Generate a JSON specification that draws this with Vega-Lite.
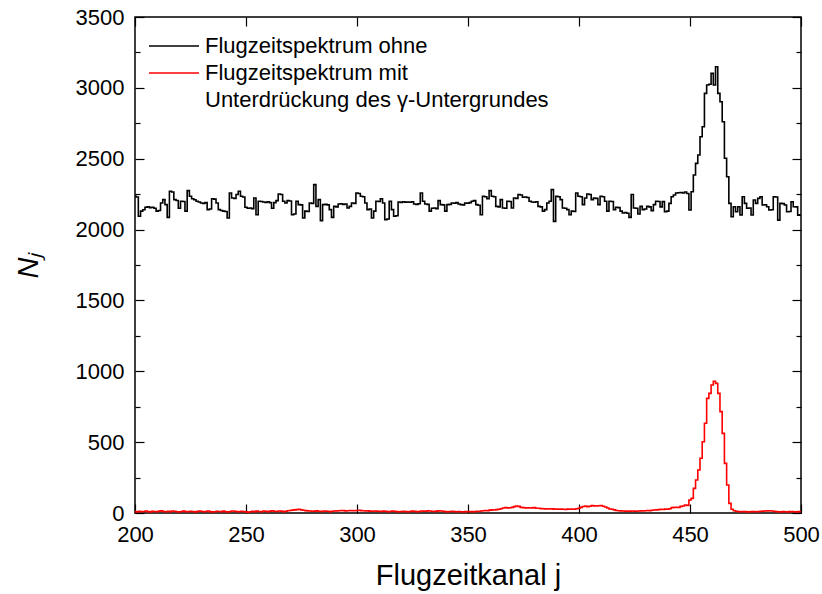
{
"$schema":"https://vega.github.io/schema/vega-lite/v6.json",
"width":666,"height":496,
"autosize":"none",
"padding":{"left":135,"top":17,"right":21,"bottom":81},
"background":"white",
"config":{"font":"Liberation Sans","view":{"stroke":"#000","strokeWidth":1.5},
"axis":{"domain":false,"grid":false,"labelColor":"#000","tickColor":"#000","titleColor":"#000","tickWidth":1.2},
"style":{"guide-label":{"fill":"#000"}}},
"data":{"values":[
{"ch":200,"ohne":2235,"mit":10},{"ch":201,"ohne":2230,"mit":8},{"ch":202,"ohne":2094,"mit":12},{"ch":203,"ohne":2130,"mit":9},{"ch":204,"ohne":2140,"mit":11},{"ch":205,"ohne":2157,"mit":14},{"ch":206,"ohne":2160,"mit":10},{"ch":207,"ohne":2155,"mit":8},{"ch":208,"ohne":2158,"mit":12},{"ch":209,"ohne":2150,"mit":11},
{"ch":210,"ohne":2130,"mit":9},{"ch":211,"ohne":2135,"mit":13},{"ch":212,"ohne":2188,"mit":15},{"ch":213,"ohne":2211,"mit":11},{"ch":214,"ohne":2176,"mit":9},{"ch":215,"ohne":2086,"mit":12},{"ch":216,"ohne":2270,"mit":10},{"ch":217,"ohne":2265,"mit":14},{"ch":218,"ohne":2211,"mit":12},{"ch":219,"ohne":2205,"mit":9},
{"ch":220,"ohne":2150,"mit":8},{"ch":221,"ohne":2200,"mit":11},{"ch":222,"ohne":2198,"mit":13},{"ch":223,"ohne":2130,"mit":10},{"ch":224,"ohne":2275,"mit":9},{"ch":225,"ohne":2235,"mit":12},{"ch":226,"ohne":2218,"mit":11},{"ch":227,"ohne":2210,"mit":8},{"ch":228,"ohne":2200,"mit":10},{"ch":229,"ohne":2195,"mit":13},
{"ch":230,"ohne":2188,"mit":12},{"ch":231,"ohne":2185,"mit":9},{"ch":232,"ohne":2190,"mit":11},{"ch":233,"ohne":2141,"mit":14},{"ch":234,"ohne":2145,"mit":10},{"ch":235,"ohne":2218,"mit":8},{"ch":236,"ohne":2215,"mit":9},{"ch":237,"ohne":2188,"mit":12},{"ch":238,"ohne":2141,"mit":11},{"ch":239,"ohne":2135,"mit":10},
{"ch":240,"ohne":2130,"mit":13},{"ch":241,"ohne":2128,"mit":9},{"ch":242,"ohne":2082,"mit":8},{"ch":243,"ohne":2258,"mit":11},{"ch":244,"ohne":2223,"mit":14},{"ch":245,"ohne":2220,"mit":12},{"ch":246,"ohne":2247,"mit":10},{"ch":247,"ohne":2270,"mit":9},{"ch":248,"ohne":2235,"mit":12},{"ch":249,"ohne":2230,"mit":11},
{"ch":250,"ohne":2157,"mit":8},{"ch":251,"ohne":2150,"mit":5},{"ch":252,"ohne":2152,"mit":9},{"ch":253,"ohne":2148,"mit":12},{"ch":254,"ohne":2223,"mit":10},{"ch":255,"ohne":2105,"mit":13},{"ch":256,"ohne":2200,"mit":11},{"ch":257,"ohne":2198,"mit":9},{"ch":258,"ohne":2195,"mit":14},{"ch":259,"ohne":2192,"mit":12},
{"ch":260,"ohne":2196,"mit":10},{"ch":261,"ohne":2190,"mit":13},{"ch":262,"ohne":2150,"mit":15},{"ch":263,"ohne":2190,"mit":12},{"ch":264,"ohne":2204,"mit":11},{"ch":265,"ohne":2251,"mit":14},{"ch":266,"ohne":2248,"mit":13},{"ch":267,"ohne":2200,"mit":10},{"ch":268,"ohne":2188,"mit":12},{"ch":269,"ohne":2204,"mit":16},
{"ch":270,"ohne":2202,"mit":18},{"ch":271,"ohne":2105,"mit":20},{"ch":272,"ohne":2110,"mit":22},{"ch":273,"ohne":2200,"mit":24},{"ch":274,"ohne":2176,"mit":26},{"ch":275,"ohne":2174,"mit":22},{"ch":276,"ohne":2082,"mit":19},{"ch":277,"ohne":2130,"mit":17},{"ch":278,"ohne":2128,"mit":15},{"ch":279,"ohne":2188,"mit":14},
{"ch":280,"ohne":2185,"mit":12},{"ch":281,"ohne":2317,"mit":13},{"ch":282,"ohne":2164,"mit":15},{"ch":283,"ohne":2211,"mit":12},{"ch":284,"ohne":2063,"mit":11},{"ch":285,"ohne":2176,"mit":14},{"ch":286,"ohne":2178,"mit":13},{"ch":287,"ohne":2174,"mit":12},{"ch":288,"ohne":2141,"mit":10},{"ch":289,"ohne":2086,"mit":12},
{"ch":290,"ohne":2164,"mit":14},{"ch":291,"ohne":2160,"mit":15},{"ch":292,"ohne":2180,"mit":16},{"ch":293,"ohne":2182,"mit":18},{"ch":294,"ohne":2178,"mit":17},{"ch":295,"ohne":2180,"mit":15},{"ch":296,"ohne":2152,"mit":16},{"ch":297,"ohne":2164,"mit":18},{"ch":298,"ohne":2188,"mit":17},{"ch":299,"ohne":2185,"mit":16},
{"ch":300,"ohne":2258,"mit":18},{"ch":301,"ohne":2255,"mit":19},{"ch":302,"ohne":2235,"mit":17},{"ch":303,"ohne":2232,"mit":16},{"ch":304,"ohne":2188,"mit":14},{"ch":305,"ohne":2141,"mit":15},{"ch":306,"ohne":2145,"mit":13},{"ch":307,"ohne":2082,"mit":12},{"ch":308,"ohne":2130,"mit":14},{"ch":309,"ohne":2200,"mit":13},
{"ch":310,"ohne":2198,"mit":12},{"ch":311,"ohne":2218,"mit":11},{"ch":312,"ohne":2188,"mit":13},{"ch":313,"ohne":2070,"mit":12},{"ch":314,"ohne":2075,"mit":10},{"ch":315,"ohne":2200,"mit":11},{"ch":316,"ohne":2141,"mit":13},{"ch":317,"ohne":2094,"mit":12},{"ch":318,"ohne":2098,"mit":10},{"ch":319,"ohne":2195,"mit":9},
{"ch":320,"ohne":2192,"mit":11},{"ch":321,"ohne":2196,"mit":12},{"ch":322,"ohne":2194,"mit":10},{"ch":323,"ohne":2195,"mit":9},{"ch":324,"ohne":2193,"mit":11},{"ch":325,"ohne":2196,"mit":13},{"ch":326,"ohne":2180,"mit":12},{"ch":327,"ohne":2178,"mit":10},{"ch":328,"ohne":2182,"mit":11},{"ch":329,"ohne":2258,"mit":14},
{"ch":330,"ohne":2200,"mit":13},{"ch":331,"ohne":2180,"mit":12},{"ch":332,"ohne":2178,"mit":15},{"ch":333,"ohne":2130,"mit":14},{"ch":334,"ohne":2150,"mit":12},{"ch":335,"ohne":2152,"mit":11},{"ch":336,"ohne":2148,"mit":13},{"ch":337,"ohne":2204,"mit":15},{"ch":338,"ohne":2176,"mit":14},{"ch":339,"ohne":2174,"mit":12},
{"ch":340,"ohne":2130,"mit":10},{"ch":341,"ohne":2176,"mit":9},{"ch":342,"ohne":2178,"mit":11},{"ch":343,"ohne":2188,"mit":12},{"ch":344,"ohne":2186,"mit":10},{"ch":345,"ohne":2190,"mit":9},{"ch":346,"ohne":2180,"mit":11},{"ch":347,"ohne":2176,"mit":9},{"ch":348,"ohne":2174,"mit":8},{"ch":349,"ohne":2188,"mit":10},
{"ch":350,"ohne":2186,"mit":9},{"ch":351,"ohne":2190,"mit":11},{"ch":352,"ohne":2200,"mit":10},{"ch":353,"ohne":2204,"mit":9},{"ch":354,"ohne":2176,"mit":12},{"ch":355,"ohne":2172,"mit":11},{"ch":356,"ohne":2105,"mit":14},{"ch":357,"ohne":2235,"mit":16},{"ch":358,"ohne":2232,"mit":18},{"ch":359,"ohne":2218,"mit":17},
{"ch":360,"ohne":2275,"mit":20},{"ch":361,"ohne":2235,"mit":22},{"ch":362,"ohne":2232,"mit":21},{"ch":363,"ohne":2164,"mit":24},{"ch":364,"ohne":2160,"mit":26},{"ch":365,"ohne":2211,"mit":30},{"ch":366,"ohne":2152,"mit":35},{"ch":367,"ohne":2150,"mit":38},{"ch":368,"ohne":2200,"mit":36},{"ch":369,"ohne":2198,"mit":37},
{"ch":370,"ohne":2152,"mit":40},{"ch":371,"ohne":2223,"mit":45},{"ch":372,"ohne":2220,"mit":49},{"ch":373,"ohne":2247,"mit":47},{"ch":374,"ohne":2244,"mit":40},{"ch":375,"ohne":2228,"mit":38},{"ch":376,"ohne":2230,"mit":36},{"ch":377,"ohne":2226,"mit":37},{"ch":378,"ohne":2200,"mit":35},{"ch":379,"ohne":2195,"mit":36},
{"ch":380,"ohne":2193,"mit":38},{"ch":381,"ohne":2196,"mit":34},{"ch":382,"ohne":2164,"mit":33},{"ch":383,"ohne":2160,"mit":31},{"ch":384,"ohne":2130,"mit":30},{"ch":385,"ohne":2141,"mit":29},{"ch":386,"ohne":2188,"mit":28},{"ch":387,"ohne":2200,"mit":30},{"ch":388,"ohne":2282,"mit":29},{"ch":389,"ohne":2058,"mit":27},
{"ch":390,"ohne":2235,"mit":28},{"ch":391,"ohne":2232,"mit":26},{"ch":392,"ohne":2211,"mit":27},{"ch":393,"ohne":2152,"mit":26},{"ch":394,"ohne":2150,"mit":25},{"ch":395,"ohne":2141,"mit":27},{"ch":396,"ohne":2105,"mit":26},{"ch":397,"ohne":2130,"mit":28},{"ch":398,"ohne":2128,"mit":26},{"ch":399,"ohne":2258,"mit":30},
{"ch":400,"ohne":2235,"mit":34},{"ch":401,"ohne":2232,"mit":40},{"ch":402,"ohne":2176,"mit":46},{"ch":403,"ohne":2223,"mit":49},{"ch":404,"ohne":2251,"mit":45},{"ch":405,"ohne":2248,"mit":48},{"ch":406,"ohne":2211,"mit":52},{"ch":407,"ohne":2223,"mit":50},{"ch":408,"ohne":2220,"mit":49},{"ch":409,"ohne":2176,"mit":51},
{"ch":410,"ohne":2235,"mit":53},{"ch":411,"ohne":2232,"mit":48},{"ch":412,"ohne":2200,"mit":42},{"ch":413,"ohne":2130,"mit":35},{"ch":414,"ohne":2200,"mit":28},{"ch":415,"ohne":2198,"mit":26},{"ch":416,"ohne":2141,"mit":22},{"ch":417,"ohne":2157,"mit":18},{"ch":418,"ohne":2155,"mit":16},{"ch":419,"ohne":2130,"mit":15},
{"ch":420,"ohne":2117,"mit":14},{"ch":421,"ohne":2120,"mit":13},{"ch":422,"ohne":2115,"mit":12},{"ch":423,"ohne":2086,"mit":13},{"ch":424,"ohne":2247,"mit":14},{"ch":425,"ohne":2152,"mit":13},{"ch":426,"ohne":2150,"mit":12},{"ch":427,"ohne":2110,"mit":14},{"ch":428,"ohne":2164,"mit":15},{"ch":429,"ohne":2141,"mit":14},
{"ch":430,"ohne":2145,"mit":16},{"ch":431,"ohne":2164,"mit":18},{"ch":432,"ohne":2160,"mit":17},{"ch":433,"ohne":2134,"mit":19},{"ch":434,"ohne":2176,"mit":21},{"ch":435,"ohne":2200,"mit":22},{"ch":436,"ohne":2198,"mit":24},{"ch":437,"ohne":2160,"mit":26},{"ch":438,"ohne":2197,"mit":25},{"ch":439,"ohne":2126,"mit":27},
{"ch":440,"ohne":2130,"mit":26},{"ch":441,"ohne":2185,"mit":30},{"ch":442,"ohne":2232,"mit":38},{"ch":443,"ohne":2244,"mit":40},{"ch":444,"ohne":2258,"mit":41},{"ch":445,"ohne":2260,"mit":39},{"ch":446,"ohne":2262,"mit":47},{"ch":447,"ohne":2258,"mit":49},{"ch":448,"ohne":2265,"mit":56},{"ch":449,"ohne":2255,"mit":54},
{"ch":450,"ohne":2138,"mit":92},{"ch":451,"ohne":2267,"mit":103},{"ch":452,"ohne":2385,"mit":174},{"ch":453,"ohne":2467,"mit":233},{"ch":454,"ohne":2526,"mit":303},{"ch":455,"ohne":2655,"mit":386},{"ch":456,"ohne":2726,"mit":503},{"ch":457,"ohne":2961,"mit":633},{"ch":458,"ohne":3020,"mit":809},{"ch":459,"ohne":3025,"mit":844},
{"ch":460,"ohne":3102,"mit":903},{"ch":461,"ohne":3020,"mit":930},{"ch":462,"ohne":3149,"mit":915},{"ch":463,"ohne":2961,"mit":844},{"ch":464,"ohne":2902,"mit":715},{"ch":465,"ohne":2761,"mit":562},{"ch":466,"ohne":2503,"mit":350},{"ch":467,"ohne":2373,"mit":198},{"ch":468,"ohne":2185,"mit":68},{"ch":469,"ohne":2091,"mit":26},
{"ch":470,"ohne":2161,"mit":16},{"ch":471,"ohne":2126,"mit":12},{"ch":472,"ohne":2161,"mit":10},{"ch":473,"ohne":2103,"mit":9},{"ch":474,"ohne":2232,"mit":11},{"ch":475,"ohne":2185,"mit":10},{"ch":476,"ohne":2150,"mit":8},{"ch":477,"ohne":2152,"mit":9},{"ch":478,"ohne":2103,"mit":10},{"ch":479,"ohne":2209,"mit":11},
{"ch":480,"ohne":2185,"mit":9},{"ch":481,"ohne":2220,"mit":10},{"ch":482,"ohne":2232,"mit":12},{"ch":483,"ohne":2173,"mit":13},{"ch":484,"ohne":2175,"mit":14},{"ch":485,"ohne":2161,"mit":15},{"ch":486,"ohne":2138,"mit":16},{"ch":487,"ohne":2140,"mit":14},{"ch":488,"ohne":2232,"mit":12},{"ch":489,"ohne":2230,"mit":10},
{"ch":490,"ohne":2067,"mit":9},{"ch":491,"ohne":2185,"mit":8},{"ch":492,"ohne":2183,"mit":10},{"ch":493,"ohne":2173,"mit":9},{"ch":494,"ohne":2126,"mit":8},{"ch":495,"ohne":2128,"mit":10},{"ch":496,"ohne":2196,"mit":11},{"ch":497,"ohne":2161,"mit":9},{"ch":498,"ohne":2160,"mit":8},{"ch":499,"ohne":2102,"mit":10},
{"ch":500,"ohne":2105,"mit":9}
]},
"layer":[
{"transform":[{"fold":["ohne","mit"],"as":["s","n"]}],
 "mark":{"type":"line","interpolate":"step","strokeWidth":1.6},
 "encoding":{
  "x":{"field":"ch","type":"quantitative","scale":{"domain":[200,500],"nice":false,"zero":false},
       "axis":{"title":"Flugzeitkanal j","format":"d","values":[200,250,300,350,400,450,500],"ticks":false,"labelPadding":11,"labelFontSize":22,"labelFlush":false,"titleFontSize":29,"titleFontWeight":"normal","titlePadding":16}},
  "y":{"field":"n","type":"quantitative","scale":{"domain":[0,3500],"nice":false},
       "axis":{"title":"Nⱼ","format":"d","values":[0,500,1000,1500,2000,2500,3000,3500],"ticks":false,"labelPadding":11,"labelFontSize":22,"titleFontSize":29,"titleFontStyle":"italic","titleFontWeight":"normal","titlePadding":32}},
  "color":{"field":"s","type":"nominal","scale":{"domain":["ohne","mit","u"],"range":["#000000","#ff0000","rgba(0,0,0,0)"]},
       "legend":{"orient":"none","legendX":8,"legendY":18,"title":null,"symbolType":"M-1,0H9","symbolSize":100,"symbolStrokeWidth":1.6,"labelFontSize":22,"labelOffset":40,"rowPadding":5,"padding":0,"labelLimit":600,
         "labelExpr":"datum.value == 'ohne' ? 'Flugzeitspektrum ohne' : datum.value == 'mit' ? 'Flugzeitspektrum mit' : 'Unterdrückung des γ-Untergrundes'"}}
 }},
{"mark":{"type":"point","opacity":0},
 "encoding":{
  "x":{"field":"ch","type":"quantitative","axis":{"orient":"top","labels":false,"title":null,"values":[200,250,300,350,400,450,500],"tickSize":-9}},
  "y":{"field":"ohne","type":"quantitative","axis":{"orient":"right","labels":false,"title":null,"values":[0,500,1000,1500,2000,2500,3000,3500],"tickSize":-9}}}},
{"mark":{"type":"point","opacity":0},
 "encoding":{
  "x":{"field":"ch","type":"quantitative","axis":{"orient":"bottom","labels":false,"title":null,"values":[200,250,300,350,400,450,500],"tickSize":-9}},
  "y":{"field":"ohne","type":"quantitative","axis":{"orient":"left","labels":false,"title":null,"values":[0,500,1000,1500,2000,2500,3000,3500],"tickSize":-9}}}},
{"mark":{"type":"point","opacity":0},
 "encoding":{
  "x":{"field":"ch","type":"quantitative","axis":null},
  "y":{"field":"ohne","type":"quantitative","axis":{"orient":"left","labels":false,"title":null,"values":[250,750,1250,1750,2250,2750,3250],"tickSize":-5}}}},
{"mark":{"type":"point","opacity":0},
 "encoding":{
  "x":{"field":"ch","type":"quantitative","axis":null},
  "y":{"field":"ohne","type":"quantitative","axis":{"orient":"right","labels":false,"title":null,"values":[250,750,1250,1750,2250,2750,3250],"tickSize":-5}}}}
],
"resolve":{"axis":{"x":"independent","y":"independent"}}
}
